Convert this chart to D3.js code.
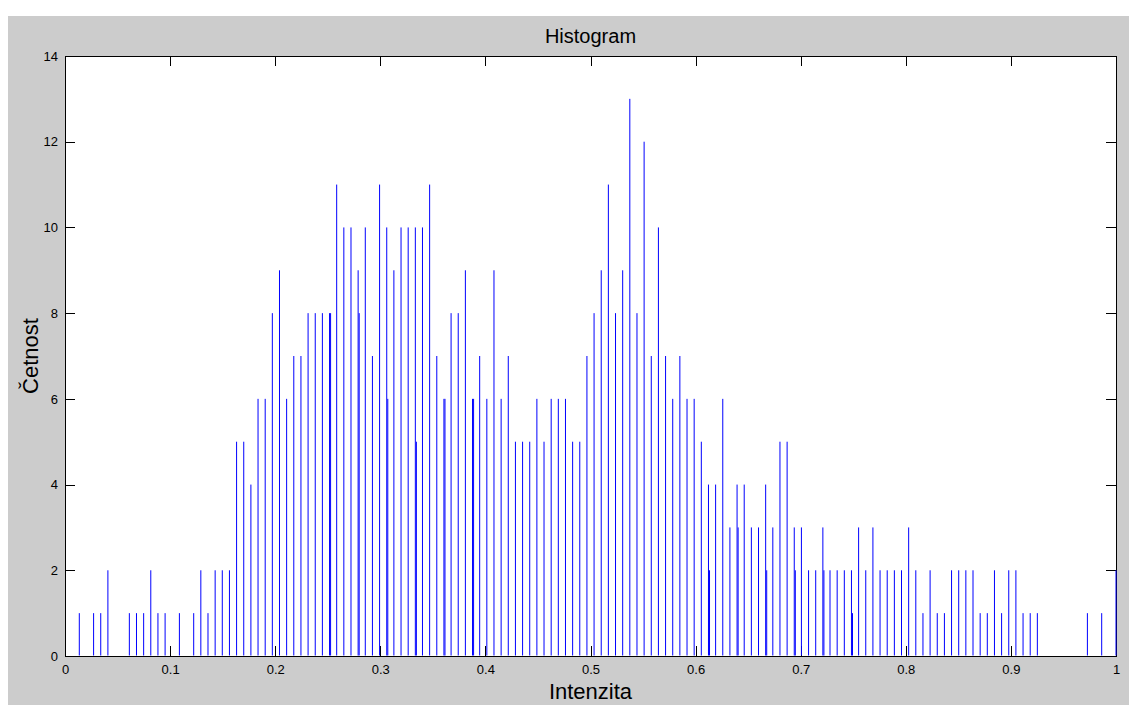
<!DOCTYPE html>
<html><head><meta charset="utf-8">
<script src="https://cdn.jsdelivr.net/npm/d3@7"></script>
<style>
body{margin:0;background:#fff;}
svg{display:block;}
text{font-family:"Liberation Sans",Arial,Helvetica,sans-serif;fill:#000;}
</style>
</head><body>
<svg id="chart" width="1129" height="705"></svg>
<script>
// ---- data ----
const binLast = 147; // bins at intensity k / 147
const counts = [
  0,0,1,0,1,1,2,0,0,1,1,1,2,1,1,0,1,0,1,2,1,2,2,2,5,
  5,4,6,6,8,9,6,7,7,8,8,8,8,11,10,10,9,10,7,11,10,9,10,10,
  10,10,11,7,6,8,8,9,6,7,6,9,6,7,5,5,5,6,5,6,6,6,5,5,
  7,8,9,11,8,9,13,8,12,7,10,7,6,7,6,6,5,4,4,6,3,4,4,
  3,3,4,3,5,5,3,3,2,2,3,2,2,2,2,3,2,3,2,2,2,2,3,2,
  1,2,1,1,2,2,2,2,1,1,2,1,2,2,1,1,1,0,0,0,0,0,0,1,0,1,0,2
];
// secondary stems drawn one pixel beside a main stem
const extraBins   = [37,41,45,49,53,57,90,94,98,102,106,110];
const extraCounts = [ 8, 8, 6, 5, 6, 6, 2, 3, 2,  2,  2,  1];
const extraShift = 0.001;

const xTicks = [0,0.1,0.2,0.3,0.4,0.5,0.6,0.7,0.8,0.9,1];
const xTickLabels = ["0","0.1","0.2","0.3","0.4","0.5","0.6","0.7","0.8","0.9","1"];
const yTicks = [0,2,4,6,8,10,12,14];
const yTickLabels = ["0","2","4","6","8","10","12","14"];
const titleText = "Histogram";
const xTitle = "Intenzita";
const yTitle = "Četnost";

// ---- layout ----
const W = 1129, H = 705;
const PL = 65, PR = 1116, PT = 56, PB = 656;
const svg = d3.select("#chart");

svg.append("rect").attr("x",8).attr("y",16).attr("width",W-8).attr("height",H-16).attr("fill","#cccccc");
svg.append("rect").attr("x",PL).attr("y",PT).attr("width",PR-PL).attr("height",PB-PT).attr("fill","#ffffff");

const x = d3.scaleLinear().domain([0,1]).range([PL,PR]);
const y = d3.scaleLinear().domain([0,14]).range([PB,PT]);

// axes
const tl = 10;
const ax = svg.append("g").attr("shape-rendering","crispEdges");
ax.append("g").attr("transform",`translate(0,${PB})`)
  .call(d3.axisBottom(x).tickValues(xTicks).tickFormat((d,i)=>xTickLabels[i]).tickSizeInner(-tl).tickSizeOuter(0).tickPadding(9));
ax.append("g").attr("transform",`translate(0,${PT})`)
  .call(d3.axisTop(x).tickValues(xTicks).tickFormat("").tickSizeInner(-tl).tickSizeOuter(0));
ax.append("g").attr("transform",`translate(${PL},0)`)
  .call(d3.axisLeft(y).tickValues(yTicks).tickFormat((d,i)=>yTickLabels[i]).tickSizeInner(-tl).tickSizeOuter(0).tickPadding(7));
ax.append("g").attr("transform",`translate(${PR},0)`)
  .call(d3.axisRight(y).tickValues(yTicks).tickFormat("").tickSizeInner(-tl).tickSizeOuter(0));
ax.selectAll(".domain").remove();
ax.selectAll(".tick line").attr("stroke","#000");
ax.selectAll(".tick text").attr("font-size",13).attr("font-family","Liberation Sans, Arial, sans-serif").attr("fill","#000");
ax.append("rect").attr("x",PL).attr("y",PT).attr("width",PR-PL).attr("height",PB-PT)
  .attr("fill","none").attr("stroke","#000").attr("stroke-width",1);

// stems (drawn over the box so the stem at 1.0 stays visible)
const stems = counts.map((c,k)=>({v:k/binLast,c})).filter(d=>d.c>0);
const extras = extraBins.map((k,i)=>({v:k/binLast+extraShift,c:extraCounts[i]}));

const gStems = svg.append("g");
gStems.selectAll("line.stem").data(stems.concat(extras)).enter().append("line")
  .attr("class","stem")
  .attr("x1",d=>x(d.v)).attr("x2",d=>x(d.v))
  .attr("y1",y(0)-0.5).attr("y2",d=>y(d.c))
  .attr("stroke","#0000ff").attr("stroke-width",1);

// titles
svg.append("text").attr("x",(PL+PR)/2).attr("y",43).attr("text-anchor","middle").attr("font-size",20).text(titleText);
svg.append("text").attr("x",(PL+PR)/2).attr("y",699).attr("text-anchor","middle").attr("font-size",22).text(xTitle);
svg.append("text").attr("transform",`translate(38,${(PT+PB)/2}) rotate(-90)`).attr("text-anchor","middle").attr("font-size",22).text(yTitle);
</script>
</body></html>
